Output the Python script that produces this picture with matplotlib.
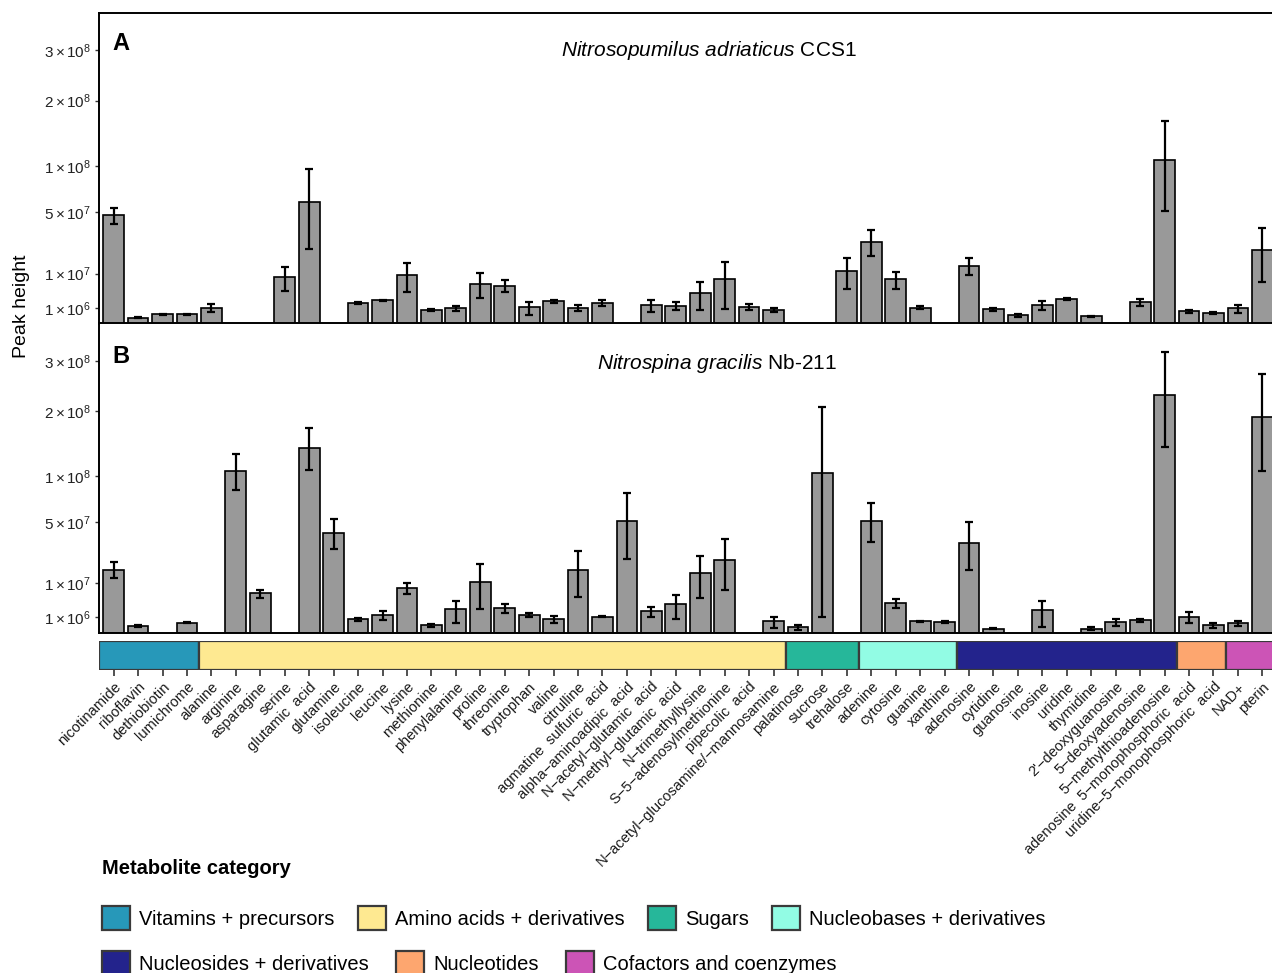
import numpy as np
import matplotlib
matplotlib.use("Agg")
import matplotlib.pyplot as plt
from matplotlib.patches import Patch

plt.rcParams['font.family'] = ['Liberation Sans', 'DejaVu Sans']
plt.rcParams['mathtext.fontset'] = 'custom'
plt.rcParams['mathtext.rm'] = 'Liberation Sans'
plt.rcParams['mathtext.it'] = 'Liberation Sans:italic'
plt.rcParams['mathtext.bf'] = 'Liberation Sans:bold'

# metabolites in plotting order
metabolites = [
    "nicotinamide", "riboflavin", "dethiobiotin", "lumichrome",
    "alanine", "arginine", "asparagine", "serine", "glutamic  acid", "glutamine",
    "isoleucine", "leucine", "lysine", "methionine", "phenylalanine", "proline",
    "threonine", "tryptophan", "valine", "citrulline", "agmatine  sulfuric  acid",
    "alpha\u2212aminoadipic  acid", "N\u2212acetyl\u2212glutamic  acid",
    "N\u2212methyl\u2212glutamic  acid", "N\u2212trimethyllysine",
    "S\u22125\u2212adenosylmethionine", "pipecolic  acid",
    "N\u2212acetyl\u2212glucosamine/\u2212mannosamine",
    "palatinose", "sucrose", "trehalose",
    "adenine", "cytosine", "guanine", "xanthine",
    "adenosine", "cytidine", "guanosine", "inosine", "uridine", "thymidine",
    "2'\u2212deoxyguanosine", "5\u2212deoxyadenosine", "5\u2212methylthioadenosine",
    "adenosine  5\u2212monophosphoric  acid", "uridine\u22125\u2212monophosphoric  acid",
    "NAD+", "pterin",
]

categories = ["Vitamins + precursors", "Amino acids + derivatives", "Sugars",
              "Nucleobases + derivatives", "Nucleosides + derivatives",
              "Nucleotides", "Cofactors and coenzymes"]
cat_sizes = [4, 24, 3, 4, 9, 2, 2]
cat_colors = ["#2798B9", "#FEE991", "#26B79A", "#92FCE4", "#23238C", "#FDA66F", "#CC54B6"]

nan = np.nan
# Nitrosopumilus adriaticus CCS1
a_mean = [4.7e7, 1.4e5, 3.5e5, 3.5e5,
          1.0e6, nan, nan, 8.6e6, 5.9e7, nan,
          1.74e6, 2.2e6, 9.4e6, 7.2e5, 9.2e5, 6.4e6,
          5.7e6, 1.08e6, 1.96e6, 1.0e6, 1.74e6,
          nan, 1.36e6, 1.3e6, 3.8e6, 8.1e6, 1.13e6, 7.2e5,
          nan, nan, 1.1e7,
          2.69e7, 7.8e6, 1.0e6, nan,
          1.32e7, 8.0e5, 2.8e5, 1.42e6, 2.47e6, 2.0e5, nan, 1.84e6, 1.077e8,
          6.2e5, 4.3e5,
          9.2e5, 2.2e7]
a_sd = [7e6, 3e4, 5e4, 5e4,
        5e5, nan, nan, 4.3e6, 3.65e7, nan,
        2e5, 1e5, 5.3e6, 1e5, 3e5, 3.8e6,
        1.8e6, 8e5, 2e5, 3.5e5, 4.5e5,
        nan, 8.5e5, 6e5, 3.1e6, 7.3e6, 4.4e5, 2e5,
        nan, nan, 6.3e6,
        8.6e6, 2.9e6, 2e5, nan,
        3.9e6, 1.5e5, 1e5, 6.5e5, 2.5e5, 5e4, nan, 5.5e5, 5.7e7,
        1.5e5, 1e5,
        5e5, 1.5e7]

# Nitrospina gracilis Nb-211
b_mean = [1.63e7, 1.85e5, nan, 4.3e5,
          nan, 1.06e8, 6.35e6, nan, 1.39e8, 4.04e7,
          7.6e5, 1.31e6, 8.15e6, 2.6e5, 2.27e6, 1.07e7,
          2.46e6, 1.31e6, 8.3e5, 1.63e7, 1.08e6,
          5.1e7, 1.9e6, 3.39e6, 1.46e7, 2.16e7, nan, 5.6e5,
          1.5e5, 1.04e8, nan,
          5.1e7, 3.56e6, 5.6e5, 4.9e5,
          3.27e7, 8.0e4, nan, 2.14e6, nan, 7.7e4, 4.9e5, 6.6e5, 2.30e8,
          1.08e6, 2.4e5,
          4.1e5, 1.89e8]
b_sd = [4e6, 5e4, nan, 5e4,
        nan, 2.35e7, 1.3e6, nan, 3.15e7, 1.2e7,
        1.5e5, 6.5e5, 1.85e6, 1e5, 1.9e6, 8.4e6,
        8.5e5, 3e5, 4e5, 1.1e7, 1e5,
        2.87e7, 9e5, 2.6e6, 9.5e6, 1.4e7, nan, 4.5e5,
        1.2e5, 1.03e8, nan,
        1.77e7, 1e6, 3e4, 1e5,
        1.68e7, 3e4, nan, 1.97e6, nan, 5e4, 3e5, 1.5e5, 9e7,
        7e5, 1.5e5,
        2e5, 8.3e7]

ytick_vals = [1e6, 1e7, 5e7, 1e8, 2e8, 3e8]
ytick_labels = [r"$1\times10^{6}$", r"$1\times10^{7}$", r"$5\times10^{7}$",
                r"$1\times10^{8}$", r"$2\times10^{8}$", r"$3\times10^{8}$"]

W, H = 1272, 973
fig = plt.figure(figsize=(W / 100, H / 100), dpi=100)


def px_axes(left, top, right, bottom):
    return fig.add_axes([left / W, 1 - bottom / H, (right - left) / W, (bottom - top) / H])


x = np.arange(len(metabolites))
xlim = (-0.6, len(metabolites) - 1 + 0.6)
ax_left, ax_right = 99, 1277

panels = [
    ("A", r"$\mathit{Nitrosopumilus\ adriaticus}$ CCS1", a_mean, a_sd, 13, 323.5, 709, 56, 50),
    ("B", r"$\mathit{Nitrospina\ gracilis}$ Nb-211", b_mean, b_sd, 323.5, 633, 717, 369, 363),
]

for letter, title, mean, sd, top, bottom, tx, ty, ly in panels:
    ax = px_axes(ax_left, top, ax_right, bottom)
    mean = np.array(mean)
    sd = np.array(sd)
    ok = ~np.isnan(mean)
    ax.set_yscale('function', functions=(lambda v: np.sqrt(np.clip(v, 0, None)),
                                         lambda v: np.square(v)))
    ax.bar(x[ok], mean[ok], width=0.85, color="#999999", edgecolor="black",
           linewidth=1.2, zorder=2)
    ax.errorbar(x[ok], mean[ok], yerr=sd[ok], fmt="none", ecolor="black",
                elinewidth=1.6, capsize=3, capthick=1.6, zorder=3)
    ax.set_xlim(*xlim)
    ax.set_ylim(0, 3.88e8)
    ax.set_yticks(ytick_vals)
    ax.set_yticklabels(ytick_labels)
    ax.tick_params(axis="y", length=3, width=1, color="#333333", labelsize=11,
                   labelcolor="#222222", pad=3)
    ax.tick_params(axis="x", bottom=False, labelbottom=False)
    for s in ax.spines.values():
        s.set_linewidth(1.4)
        s.set_color("black")
    fig.text(tx / W, 1 - ty / H, title, ha="center", va="baseline", fontsize=15)
    fig.text(112 / W, 1 - ly / H, letter, ha="left", va="baseline", fontsize=17,
             fontweight="bold")

# category colour strip
strip = px_axes(ax_left, 641, ax_right, 670)
ends = np.cumsum(cat_sizes)
starts = ends - np.array(cat_sizes)
for i, (s, e) in enumerate(zip(starts, ends)):
    left = xlim[0] if i == 0 else s - 0.5
    right = xlim[1] if i == len(cat_sizes) - 1 else e - 0.5
    strip.bar(left, 1, width=right - left, bottom=0, align="edge",
              color=cat_colors[i], edgecolor="#3a3a3a", linewidth=1.6)
strip.set_xlim(*xlim)
strip.set_ylim(0, 1)
strip.set_yticks([])
for s in strip.spines.values():
    s.set_visible(False)
strip.set_xticks(x)
strip.set_xticklabels(metabolites, rotation=45, ha="right", va="top",
                      rotation_mode="anchor", fontsize=10.5, color="#1a1a1a")
strip.tick_params(axis="x", length=4, width=1.2, color="#333333", pad=3)

fig.text(22 / W, 1 - 306 / H, "Peak height", rotation=90, ha="center", va="center",
         fontsize=14)

# legend
fig.text(102 / W, 1 - 868 / H, "Metabolite category", ha="left", va="center",
         fontsize=14.5, fontweight="bold")
handles = [Patch(facecolor=c, edgecolor="#3a3a3a", linewidth=1.6) for c in cat_colors]
leg_kw = dict(frameon=False, fontsize=14.5, handlelength=1.4, handleheight=1.4,
              handletextpad=0.45, borderpad=0, borderaxespad=0, loc="center left")
fig.legend(handles[:4], categories[:4], ncol=4, columnspacing=1.15,
           bbox_to_anchor=(102 / W, 1 - 918 / H), **leg_kw)
fig.legend(handles[4:], categories[4:], ncol=3, columnspacing=1.35,
           bbox_to_anchor=(102 / W, 1 - 963 / H), **leg_kw)

fig.savefig("out.png", dpi=100)
